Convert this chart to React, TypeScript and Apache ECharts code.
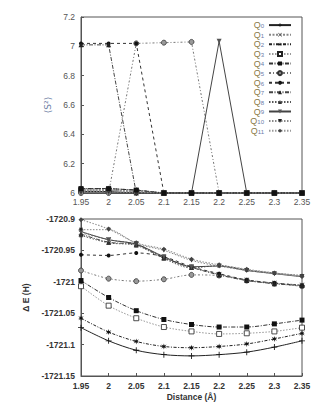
import React, { useEffect, useRef } from "react";
import * as echarts from "echarts";

const distances = ["1.95", "2", "2.05", "2.1", "2.15", "2.2", "2.25", "2.3", "2.35"];
const stateNames = ["Q0", "Q1", "Q2", "Q3", "Q4", "Q5", "Q6", "Q7", "Q8", "Q9", "Q10", "Q11"];

// <S^2> values
const s2Q0 = [6.01, 6.01, 6.0, 6.0, 6.0, 6.0, 6.0, 6.0, 6.0];
const s2Q1 = [6.02, 6.02, 6.01, 6.0, 6.0, 6.0, 6.0, 6.0, 6.0];
const s2Q2 = [6.03, 6.03, 6.02, 6.0, 6.0, 6.0, 6.0, 6.0, 6.0];
const s2Q3 = [6.02, 6.02, 6.01, 6.0, 6.0, 6.0, 6.0, 6.0, 6.0];
const s2Q4 = [6.03, 6.03, 6.02, 6.0, 6.0, 6.0, 6.0, 6.0, 6.0];
const s2Q5 = [6.0, 6.0, 7.02, 7.025, 7.03, 6.0, 6.0, 6.0, 6.0];
const s2Q6 = [7.02, 7.02, 7.02, 6.0, 6.0, 6.0, 6.0, 6.0, 6.0];
const s2Q7 = [7.01, 7.01, 6.0, 6.0, 6.0, 6.0, 6.0, 6.0, 6.0];
const s2Q8 = [6.02, 6.02, 6.01, 6.0, 6.0, 6.0, 6.0, 6.0, 6.0];
const s2Q9 = [6.0, 6.0, 6.0, 6.0, 6.0, 7.035, 6.0, 6.0, 6.0];
const s2Q10 = [6.01, 6.01, 6.0, 6.0, 6.0, 6.0, 6.0, 6.0, 6.0];
const s2Q11 = [6.02, 6.02, 6.01, 6.0, 6.0, 6.0, 6.0, 6.0, 6.0];

// Energies (Hartree)
const eQ0 = [-1721.073, -1721.094, -1721.109, -1721.116, -1721.118, -1721.116, -1721.112, -1721.104, -1721.094];
const eQ1 = [-1720.922, -1720.933, -1720.94, -1720.961, -1720.977, -1720.988, -1720.997, -1721.002, -1721.005];
const eQ2 = [-1721.058, -1721.08, -1721.095, -1721.103, -1721.105, -1721.103, -1721.099, -1721.091, -1721.082];
const eQ3 = [-1721.007, -1721.038, -1721.058, -1721.072, -1721.079, -1721.083, -1721.082, -1721.079, -1721.073];
const eQ4 = [-1720.998, -1721.025, -1721.046, -1721.06, -1721.068, -1721.072, -1721.072, -1721.067, -1721.061];
const eQ5 = [-1720.982, -1720.995, -1720.999, -1720.996, -1720.989, -1720.99, -1720.998, -1721.003, -1721.007];
const eQ6 = [-1720.957, -1720.958, -1720.954, -1720.96, -1720.976, -1720.987, -1720.997, -1721.002, -1721.006];
const eQ7 = [-1720.924, -1720.937, -1720.941, -1720.962, -1720.977, -1720.989, -1720.998, -1721.003, -1721.006];
const eQ8 = [-1720.926, -1720.938, -1720.942, -1720.963, -1720.978, -1720.974, -1720.981, -1720.986, -1720.99];
const eQ9 = [-1720.92, -1720.933, -1720.94, -1720.96, -1720.976, -1720.975, -1720.982, -1720.987, -1720.992];
const eQ10 = [-1720.917, -1720.917, -1720.939, -1720.95, -1720.966, -1720.975, -1720.982, -1720.987, -1720.991];
const eQ11 = [-1720.901, -1720.916, -1720.938, -1720.948, -1720.964, -1720.973, -1720.98, -1720.986, -1720.991];

const s2Values = [s2Q0, s2Q1, s2Q2, s2Q3, s2Q4, s2Q5, s2Q6, s2Q7, s2Q8, s2Q9, s2Q10, s2Q11];
const eValues = [eQ0, eQ1, eQ2, eQ3, eQ4, eQ5, eQ6, eQ7, eQ8, eQ9, eQ10, eQ11];

const plusPath = "path://M4.3,0H5.7V4.3H10V5.7H5.7V10H4.3V5.7H0V4.3H4.3Z";
const crossPath = "path://M1,0L5,4L9,0L10,1L6,5L10,9L9,10L5,6L1,10L0,9L4,5L0,1Z";
const starPath =
  "path://M5,0L6,3.5L9.5,1.5L7,4.5L10,5L7,5.5L9.5,8.5L6,6.5L5,10L4,6.5L0.5,8.5L3,5.5L0,5L3,4.5L0.5,1.5L4,3.5Z";
const triDown = "path://M0,0L10,0L5,9Z";

type St = { symbol: string; size: number; fill: string; border?: string; lc: string; dash: any; lw: number };
const styles: St[] = [
  { symbol: plusPath, size: 6, fill: "#111", lc: "#222", dash: "solid", lw: 1 },
  { symbol: crossPath, size: 5, fill: "#444", lc: "#888", dash: [2, 1.5], lw: 1 },
  { symbol: starPath, size: 6, fill: "#111", lc: "#222", dash: [3, 1.5, 1, 1.5], lw: 1 },
  { symbol: "rect", size: 5, fill: "#fff", border: "#222", lc: "#999", dash: [1.5, 1.5], lw: 1 },
  { symbol: "rect", size: 5, fill: "#111", lc: "#333", dash: [4, 1.5, 1, 1.5], lw: 1 },
  { symbol: "circle", size: 5, fill: "#999", border: "#333", lc: "#777", dash: [2, 2, 1, 2], lw: 1 },
  { symbol: "circle", size: 4, fill: "#111", lc: "#333", dash: [3, 3], lw: 1 },
  { symbol: "triangle", size: 5, fill: "#222", lc: "#444", dash: [4, 1.5, 1, 1.5], lw: 1 },
  { symbol: "triangle", size: 4, fill: "#333", lc: "#555", dash: [1.5, 1.5], lw: 1 },
  { symbol: triDown, size: 5, fill: "#555", lc: "#444", dash: "solid", lw: 1 },
  { symbol: triDown, size: 4, fill: "#222", lc: "#888", dash: [1.5, 1.5], lw: 1 },
  { symbol: "diamond", size: 5, fill: "#444", lc: "#999", dash: [1.5, 1.5], lw: 1.2 },
];

const FONT = "Liberation Sans";
const fmtNum = (v: number) => String(Math.round(v * 1000) / 1000);

export default function App() {
  const ref = useRef<HTMLDivElement>(null);
  useEffect(() => {
    if (!ref.current) return;
    const chart = echarts.init(ref.current, undefined, { renderer: "svg" });
    const series: any[] = [];
    stateNames.forEach((name, i) => {
      const st = styles[i];
      const common = {
        name,
        type: "line",
        symbol: st.symbol,
        symbolSize: st.size,
        showSymbol: true,
        itemStyle: { color: st.fill, borderColor: st.border || st.fill, borderWidth: st.border ? 0.8 : 0 },
        lineStyle: { color: st.lc, type: st.dash, width: st.lw },
        z: 2 + (i === 4 ? 10 : 0),
      };
      series.push({ ...common, xAxisIndex: 0, yAxisIndex: 0, data: s2Values[i] });
      series.push({ ...common, xAxisIndex: 1, yAxisIndex: 1, data: eValues[i], smooth: 0.3 });
    });

    const axisLabelBase = { fontFamily: FONT, fontSize: 8.5 };
    chart.setOption({
      animation: false,
      backgroundColor: "#fff",
      grid: [
        { left: 81, top: 17, width: 221, height: 176, show: true, borderColor: "#555", borderWidth: 1, backgroundColor: "transparent" },
        { left: 81, top: 219, width: 221, height: 157, show: true, borderColor: "#555", borderWidth: 1, backgroundColor: "transparent" },
      ],
      legend: {
        orient: "vertical",
        right: 39,
        top: 20,
        align: "right",
        itemWidth: 22,
        itemHeight: 5,
        itemGap: 0,
        padding: 0,
        data: stateNames,
        formatter: (n: string) => `{q|Q}{s|${n.slice(1)}}`,
        textStyle: {
          fontFamily: FONT,
          padding: [0, 0, 0, 0],
          rich: {
            q: { fontSize: 9, color: "#8a7a48", lineHeight: 7.8, fontFamily: FONT, verticalAlign: "middle" },
            s: { fontSize: 6, color: "#6a7ca8", lineHeight: 7.8, fontFamily: FONT, verticalAlign: "bottom", padding: [3, 0, 0, 0] },
          },
        },
      },
      xAxis: [
        {
          type: "category",
          gridIndex: 0,
          data: distances,
          boundaryGap: false,
          axisLine: { lineStyle: { color: "#555" } },
          axisTick: { inside: true, length: 3, lineStyle: { color: "#555" } },
          axisLabel: { ...axisLabelBase, color: "#555", margin: 4 },
          splitLine: { show: false },
        },
        {
          type: "category",
          gridIndex: 1,
          data: distances,
          boundaryGap: false,
          name: "Distance (Å)",
          nameLocation: "middle",
          nameGap: 16,
          nameTextStyle: { fontFamily: FONT, fontSize: 8.5, fontWeight: "bold", color: "#333" },
          axisLine: { lineStyle: { color: "#555" } },
          axisTick: { inside: true, length: 3, lineStyle: { color: "#555" } },
          axisLabel: { ...axisLabelBase, color: "#333", fontWeight: "bold", margin: 5 },
          splitLine: { show: false },
        },
      ],
      yAxis: [
        {
          type: "value",
          gridIndex: 0,
          min: 6,
          max: 7.2,
          interval: 0.2,
          name: "⟨S²⟩",
          nameLocation: "middle",
          nameRotate: 90,
          nameGap: 27,
          nameTextStyle: { fontFamily: "DejaVu Sans", fontSize: 9, color: "#6f7fa6" },
          axisLine: { show: true, lineStyle: { color: "#555" } },
          axisTick: { show: true, inside: true, length: 3, lineStyle: { color: "#555" } },
          axisLabel: { ...axisLabelBase, color: "#555", margin: 6, formatter: fmtNum },
          splitLine: { show: false },
        },
        {
          type: "value",
          gridIndex: 1,
          min: -1721.15,
          max: -1720.9,
          interval: 0.05,
          name: "Δ E (H)",
          nameLocation: "middle",
          nameRotate: 90,
          nameGap: 44,
          nameTextStyle: { fontFamily: FONT, fontSize: 8.5, fontWeight: "bold", color: "#333" },
          axisLine: { show: true, lineStyle: { color: "#555" } },
          axisTick: { show: true, inside: true, length: 3, lineStyle: { color: "#555" } },
          axisLabel: { ...axisLabelBase, color: "#333", fontWeight: "bold", margin: 6, formatter: fmtNum },
          splitLine: { show: false },
        },
      ],
      series,
    });
    return () => chart.dispose();
  }, []);
  return <div ref={ref} style={{ position: "fixed", left: 0, top: 0, width: 331, height: 413, background: "#fff" }} />;
}
